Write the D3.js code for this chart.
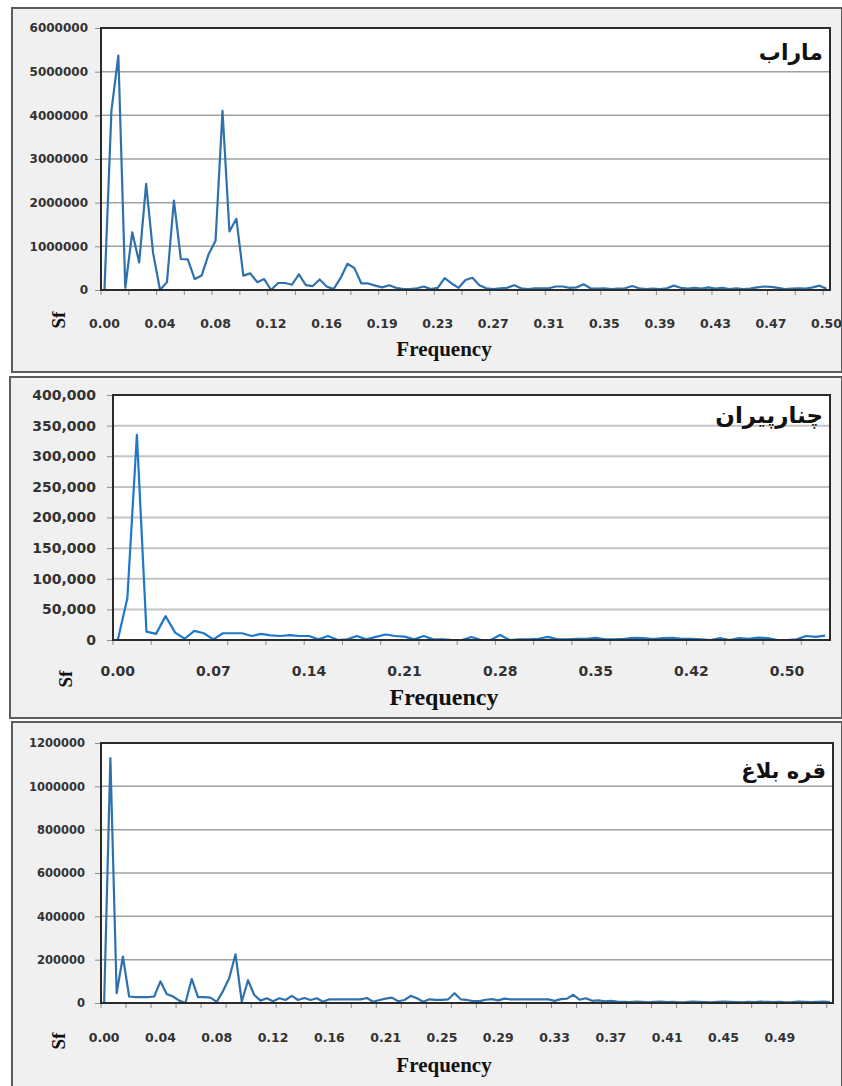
<!DOCTYPE html>
<html><head><meta charset="utf-8">
<script src="https://cdn.jsdelivr.net/npm/d3@7"></script>
<style>body{margin:0;background:#fff}svg{display:block}</style>
</head><body>
<svg id="c" width="842" height="1086"></svg>
<script>
// ---------- Panel 1: ماراب ----------
const marabTitle = "ماراب";
const marabTickLabels = ["0.00","0.04","0.08","0.12","0.16","0.19","0.23","0.27","0.31","0.35","0.39","0.43","0.47","0.50"];
const marabYTicks = [0,1000000,2000000,3000000,4000000,5000000,6000000];
const marabValues = [
  0,4100000,5370000,50000,1320000,630000,2430000,850000,0,180000,
  2050000,710000,700000,250000,330000,820000,1130000,4100000,1340000,1630000,
  330000,380000,180000,250000,0,160000,160000,120000,360000,110000,
  90000,240000,80000,20000,270000,600000,500000,150000,150000,100000,
  60000,110000,50000,20000,20000,40000,80000,20000,50000,270000,
  150000,50000,230000,280000,110000,40000,20000,40000,50000,110000,
  40000,20000,40000,40000,40000,80000,80000,50000,60000,130000,
  40000,30000,40000,20000,30000,40000,90000,40000,20000,30000,
  20000,40000,100000,50000,30000,50000,30000,60000,30000,50000,
  20000,40000,20000,30000,60000,80000,70000,50000,20000,30000,
  40000,30000,60000,100000,30000
];

// ---------- Panel 2: چنارپیران ----------
const chenarTitle = "چنارپیران";
const chenarTickLabels = ["0.00","0.07","0.14","0.21","0.28","0.35","0.42","0.50"];
const chenarYTicks = [0,50000,100000,150000,200000,250000,300000,350000,400000];
const chenarValues = [
  0,68000,335000,13600,10000,39000,12000,2000,15000,11000,
  1000,11000,11000,11000,6500,10000,7600,6500,8000,6500,
  6500,1000,6500,0,1000,6500,1000,5000,9000,6500,
  5500,1000,6500,1000,1000,0,0,5000,0,0,
  8000,0,1000,1000,2000,5000,1000,1000,2000,2000,
  3500,1000,1000,2000,3500,3000,1500,3000,3500,2000,
  2000,1000,0,3000,0,3000,2000,4000,3000,0,
  0,1000,6500,5000,7000
];

// ---------- Panel 3: قره بلاغ ----------
const gharehTitle = "قره بلاغ";
const gharehTickLabels = ["0.00","0.04","0.08","0.12","0.16","0.21","0.25","0.29","0.33","0.37","0.41","0.45","0.49"];
const gharehYTicks = [0,200000,400000,600000,800000,1000000,1200000];
const gharehValues = [
  0,1130000,45000,214000,30000,27000,27000,27000,30000,100000,
  42000,30000,11000,0,111000,27000,27000,25000,5000,55000,
  115000,225000,6000,105000,37000,11000,22000,8000,22000,14000,
  33000,14000,23000,14000,22000,6000,17000,17000,17000,17000,
  17000,17000,23000,6000,14000,20000,25000,8000,14000,33000,
  22000,6000,17000,14000,14000,17000,45000,17000,14000,9000,
  9000,15000,18000,12000,20000,17000,17000,17000,17000,17000,
  17000,17000,10000,18000,20000,38000,15000,22000,10000,12000,
  8000,10000,6000,5000,4000,6000,5000,3000,5000,6000,
  4000,5000,3000,4000,6000,5000,4000,3000,5000,6000,
  5000,4000,3000,5000,4000,6000,5000,4000,5000,3000,
  4000,6000,5000,4000,5000,6000,4000
];

const svg = d3.select("#c");

function drawPanel(o){
  const g = svg.append("g");
  g.append("rect").attr("x",o.frame[0]).attr("y",o.frame[1]).attr("width",o.frame[2]).attr("height",o.frame[3])
    .attr("fill","#f0f0f0").attr("stroke","#5c5c5c").attr("stroke-width",2);

  const n = o.values.length;
  const x = d3.scaleBand().domain(d3.range(n)).range([o.left,o.right]).padding(0);
  const y = d3.scaleLinear().domain([0,d3.max(o.yTicks)]).range([o.bottom,o.top]);

  g.append("rect").attr("x",o.left).attr("y",o.top).attr("width",o.right-o.left).attr("height",o.bottom-o.top).attr("fill","#fff");

  g.append("g").selectAll("line").data(o.yTicks).join("line")
    .attr("x1",o.left).attr("x2",o.right).attr("y1",d=>y(d)).attr("y2",d=>y(d))
    .attr("stroke",o.gridColor).attr("stroke-width",o.gridWidth);

  const ya = g.append("g").attr("transform",`translate(${o.left},0)`)
    .call(d3.axisLeft(y).tickValues(o.yTicks).tickFormat(o.yFormat).tickSize(6).tickPadding(o.yPad));
  ya.select(".domain").remove();
  ya.selectAll(".tick line").attr("stroke","#8c8c8c");
  ya.selectAll("text").attr("font-family","DejaVu Sans").attr("font-weight","bold")
    .attr("font-size",o.yFont).attr("fill","#333");

  const lblIdx = o.tickLabels.map((d,i)=>i*o.labelEvery);
  const xa = g.append("g").attr("transform",`translate(0,${o.bottom})`)
    .call(d3.axisBottom(x).tickValues(lblIdx).tickFormat((d,i)=>o.tickLabels[i]).tickSize(0).tickPadding(o.xPad));
  xa.select(".domain").remove();
  xa.selectAll("text").attr("font-family","DejaVu Sans").attr("font-weight","bold")
    .attr("font-size",o.xFont).attr("fill","#333");

  const tk = d3.range(0,n+1,4);
  g.append("g").selectAll("line").data(tk).join("line")
    .attr("x1",d=>o.left+d*x.step()).attr("x2",d=>o.left+d*x.step())
    .attr("y1",o.bottom).attr("y2",o.bottom+5).attr("stroke","#8c8c8c").attr("stroke-width",1);

  const line = d3.line().x((d,i)=>x(i)+x.bandwidth()/2).y(d=>y(d));
  g.append("path").datum(o.values).attr("d",line).attr("fill","none")
    .attr("stroke",o.lineColor).attr("stroke-width",2.2).attr("stroke-linejoin","round");

  g.append("rect").attr("x",o.left).attr("y",o.top).attr("width",o.right-o.left).attr("height",o.bottom-o.top)
    .attr("fill","none").attr("stroke","#2b2b2b").attr("stroke-width",2);

  g.append("text").attr("x",o.right-7).attr("y",o.titleY).attr("text-anchor","end")
    .attr("font-family","DejaVu Sans").attr("font-weight","bold").attr("font-size",o.titleFont)
    .attr("fill","#111").text(o.title);

  g.append("text").attr("x",444).attr("y",o.freqY).attr("text-anchor","middle")
    .attr("font-family","Liberation Serif").attr("font-weight","bold").attr("font-size",o.freqFont)
    .attr("fill","#111").text("Frequency");
  g.append("text").attr("transform",`translate(${o.sfX},${o.sfY}) rotate(-90)`).attr("text-anchor","middle")
    .attr("font-family","Liberation Serif").attr("font-weight","bold").attr("font-size",19)
    .attr("fill","#111").text("Sf");
}

drawPanel({frame:[12,8,830,364], left:101,right:830,top:28,bottom:290,
  values:marabValues, yTicks:marabYTicks, yFormat:d3.format("d"), tickLabels:marabTickLabels, labelEvery:8,
  gridColor:"#a0a0a0", gridWidth:1.5, yPad:7, yFont:12, xPad:29, xFont:12.5, lineColor:"#2f71ad",
  title:marabTitle, titleY:60, titleFont:22, freqY:356, freqFont:21, sfX:65, sfY:320});

drawPanel({frame:[10,377,832,341], left:113,right:830,top:395,bottom:640,
  values:chenarValues, yTicks:chenarYTicks, yFormat:d3.format(","), tickLabels:chenarTickLabels, labelEvery:10,
  gridColor:"#c4c4c4", gridWidth:2, yPad:11, yFont:14, xPad:26, xFont:14, lineColor:"#1f78c8",
  title:chenarTitle, titleY:423, titleFont:23, freqY:705, freqFont:24, sfX:72, sfY:679});

drawPanel({frame:[12,722,830,370], left:101,right:833,top:743,bottom:1003,
  values:gharehValues, yTicks:gharehYTicks, yFormat:d3.format("d"), tickLabels:gharehTickLabels, labelEvery:9,
  gridColor:"#a0a0a0", gridWidth:1.5, yPad:10, yFont:11.5, xPad:30, xFont:12.5, lineColor:"#2f71ad",
  title:gharehTitle, titleY:778, titleFont:21, freqY:1072, freqFont:21, sfX:65, sfY:1041});
</script>
</body></html>
